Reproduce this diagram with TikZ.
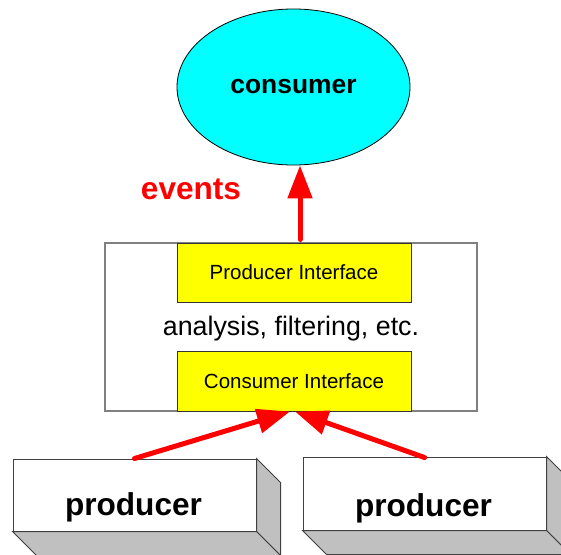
\documentclass[tikz,border=0pt]{standalone}
\usepackage{fontspec}
\setmainfont{Liberation Sans}
\usetikzlibrary{arrows.meta,shapes.geometric,calc}
\definecolor{cyanfill}{HTML}{00FFFF}
\definecolor{yellowfill}{HTML}{FFFF00}
\definecolor{redline}{HTML}{FF0000}
\definecolor{shade}{HTML}{C0C0C0}
\definecolor{boxline}{HTML}{808080}
\begin{document}
\begin{tikzpicture}[x=1pt,y=-1pt,
  mainbox/.style={draw=boxline, line width=1.3pt, fill=white, rectangle, inner sep=0pt},
  ifacebox/.style={draw=black!80, line width=1pt, fill=yellowfill, rectangle, inner sep=0pt,
    minimum width=234pt, font=\fontsize{20.5}{24}\selectfont},
  prodbox/.style={draw=black!75, line width=1pt, fill=white, rectangle, inner sep=0pt,
    minimum width=243pt},
  prodtext/.style={anchor=base, font=\fontsize{31.6}{36}\selectfont\bfseries},
  redarrow/.style={draw=redline, line width=5pt, line cap=round,
    -{Triangle[length=33pt,width=24pt]}},
  shadeface/.style={fill=shade, draw=black!75, line width=1pt, line join=miter}
]
\clip (0,0) rectangle (561,554);
\fill[white] (0,0) rectangle (561,554);

% consumer ellipse
\node[ellipse, draw=black, line width=0.8pt, fill=cyanfill, minimum width=233pt,
  minimum height=156pt, inner sep=0pt,
  font=\fontsize{26.4}{30}\selectfont\bfseries] (cons) at (293.5,87) {consumer};

% main processing box
\node[mainbox, minimum width=372pt, minimum height=168pt] (proc) at (291,327) {};
\node[ifacebox, minimum height=59pt] (pi) at (294,272.5) {Producer Interface};
\node[ifacebox, minimum height=60pt] (ci) at (294,381) {Consumer Interface};
\node[anchor=base, inner sep=0pt, font=\fontsize{26.8}{30}\selectfont] (ana) at (291,335) {analysis, filtering, etc.};

% events label and arrow
\node[anchor=base, inner sep=0pt, text=redline, font=\fontsize{31.6}{36}\selectfont\bfseries] (ev) at (191,199) {events};
\draw[redarrow] ($(pi.north)+(6,-3)$) -- ($(cons.south)+(6.5,0)$);

% producers (3D boxes)
\node[prodbox, minimum height=72pt] (p1) at (134.5,495) {};
\node[prodbox, minimum height=73pt] (p2) at (424.5,493.5) {};
\foreach \p in {p1,p2}{
  \filldraw[shadeface] (\p.north east) -- ++(24,24) -- ($(\p.south east)+(24,24)$) -- (\p.south east) -- cycle;
  \filldraw[shadeface] (\p.south west) -- ++(24,24) -- ($(\p.south east)+(24,24)$) -- (\p.south east) -- cycle;
}
\node[prodbox, minimum height=72pt] at (p1) {};
\node[prodbox, minimum height=73pt] at (p2) {};
\node[prodtext] (t1) at (133.5,515) {producer};
\node[prodtext] (t2) at (423.5,516) {producer};

% producer arrows
\draw[redarrow] (p1.north) -- ($(ci.south)+(-4,0)$);
\draw[redarrow] ($(p2.north)+(0,1)$) -- ($(ci.south)+(1,0)$);
\end{tikzpicture}
\end{document}
